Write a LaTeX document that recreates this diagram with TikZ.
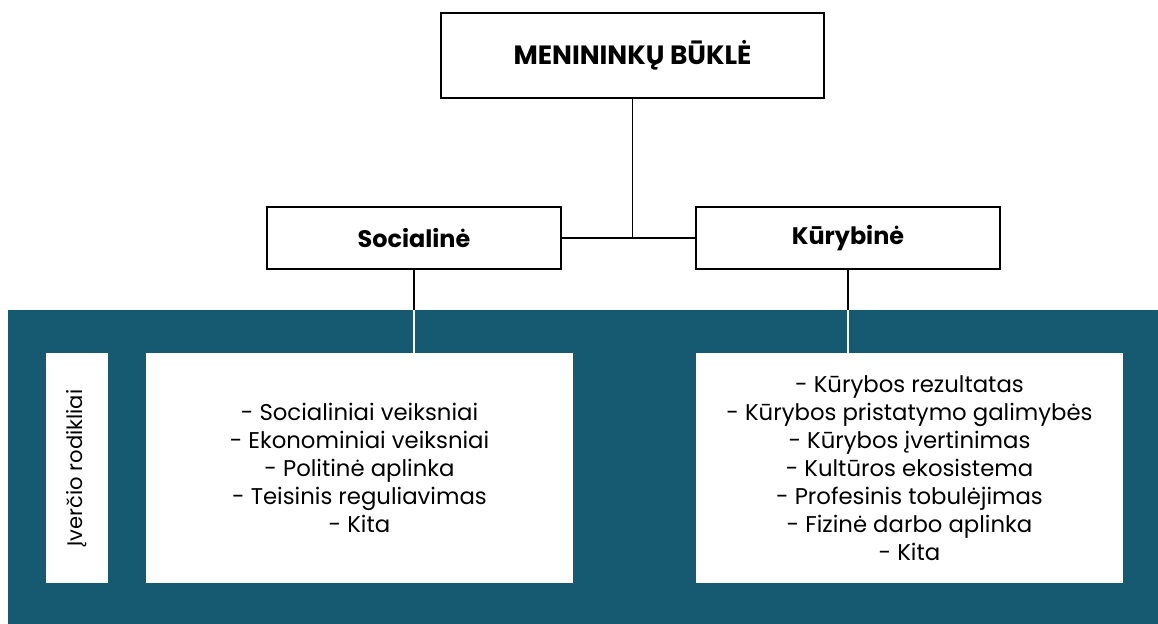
\documentclass[tikz,border=0pt]{standalone}
\usepackage{fontspec}
\setmainfont{Poppins}
\usepackage{tikz}
\usetikzlibrary{positioning}
\definecolor{bandteal}{HTML}{155A70}
\tikzstyle{headbox} = [rectangle, minimum width=9.575cm, minimum height=2.125cm, text centered, draw=black, line width=1.2pt, fill=white, font=\bfseries\fontsize{18.8}{22}\selectfont]
\tikzstyle{branch} = [rectangle, minimum height=1.55cm, text centered, draw=black, line width=1.2pt, fill=white, font=\bfseries\fontsize{17}{20}\selectfont]
\tikzstyle{listbox} = [rectangle, minimum width=10.675cm, minimum height=5.75cm, align=center, fill=white, font=\fontsize{16.2}{19.9}\selectfont]
\tikzstyle{link} = [line width=1.3pt]

\begin{document}
\begin{tikzpicture}[x=0.025cm, y=-0.025cm]
\useasboundingbox (0,0) rectangle (1158,624);

\node (band) [rectangle, fill=bandteal, minimum width=28.75cm, minimum height=7.85cm, inner sep=0pt] at (583,467) {};

\node (head) [headbox] at (632.5,55.5) {MENININKŲ BŪKLĖ};
\node (social) [branch, minimum width=7.35cm] at (414,238) {Socialinė};
\node (creative) [branch, minimum width=7.6cm] at (848,238) {Kūrybinė};

\node (label) [rectangle, fill=white, minimum width=1.55cm, minimum height=5.75cm] at (77,468) {};
\node [rotate=90, font=\fontsize{15}{18}\selectfont] at (label.center) {Įverčio rodikliai};
\node (soclist) [listbox] at (359.5,468) {- Socialiniai veiksniai\\- Ekonominiai veiksniai\\- Politinė aplinka\\- Teisinis reguliavimas\\- Kita};
\node (crelist) [listbox] at (909.5,468) {- Kūrybos rezultatas\\- Kūrybos pristatymo galimybės\\- Kūrybos įvertinimas\\- Kultūros ekosistema\\- Profesinis tobulėjimas\\- Fizinė darbo aplinka\\- Kita};

\coordinate (sjoin) at (social.south |- band.north);
\coordinate (cjoin) at (creative.south |- band.north);

\draw [link] (head.south) -- (head.south |- social.east);
\draw [link] (social.east) -- (creative.west);
\draw [link] (social.south) -- (sjoin);
\draw [link, white] (sjoin) -- (sjoin |- soclist.north);
\draw [link] (creative.south) -- (cjoin);
\draw [link, white] (cjoin) -- (cjoin |- crelist.north);

\end{tikzpicture}
\end{document}
